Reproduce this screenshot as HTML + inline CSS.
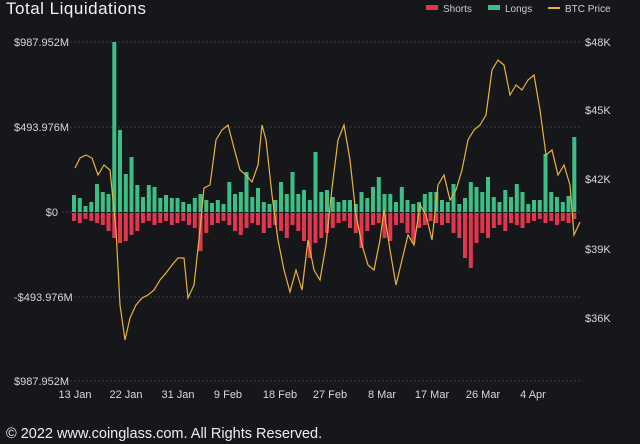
<!DOCTYPE html>
<html><head><meta charset="utf-8"><style>
body{margin:0;background:#16171b;width:640px;height:444px;overflow:hidden;font-family:"Liberation Sans",sans-serif}
svg{position:absolute;left:0;top:0}
</style></head><body>
<svg id="s" width="640" height="444" xmlns="http://www.w3.org/2000/svg">
<text x="6" y="14" fill="#f2f2f2" font-size="17" textLength="140">Total Liquidations</text>
<rect x="426" y="5" width="12" height="5" fill="#e0374f"/><text x="443" y="12" fill="#ccc" font-size="10">Shorts</text>
<rect x="488" y="5" width="12" height="5" fill="#3cbf85"/><text x="505" y="12" fill="#ccc" font-size="10">Longs</text>
<line x1="548" y1="8" x2="560" y2="8" stroke="#e8b33c" stroke-width="2"/><text x="565" y="12" fill="#ccc" font-size="10">BTC Price</text>
<g stroke="#3a3c44" stroke-dasharray="2,2" stroke-width="1">
<line x1="62" y1="42" x2="580" y2="42"/><line x1="62" y1="127" x2="580" y2="127"/><line x1="62" y1="212" x2="580" y2="212"/><line x1="62" y1="297" x2="580" y2="297"/><line x1="62" y1="381" x2="580" y2="381"/>
</g>
<g fill="#d8d8d8" font-size="11">
<text x="14" y="46">$987.952M</text><text x="14" y="131">$493.976M</text><text x="58" y="216" text-anchor="end">$0</text><text x="14" y="301">-$493.976M</text><text x="14" y="385">$987.952M</text>
<text x="585" y="46">$48K</text><text x="585" y="114">$45K</text><text x="585" y="183">$42K</text><text x="585" y="253">$39K</text><text x="585" y="322">$36K</text>
</g>
<g fill="#d8d8d8" font-size="11" text-anchor="middle">
<text x="75" y="398">13 Jan</text><text x="126" y="398">22 Jan</text><text x="178" y="398">31 Jan</text><text x="228" y="398">9 Feb</text><text x="280" y="398">18 Feb</text><text x="330" y="398">27 Feb</text><text x="382" y="398">8 Mar</text><text x="432" y="398">17 Mar</text><text x="483" y="398">26 Mar</text><text x="533" y="398">4 Apr</text>
</g>
<text x="6" y="438" fill="#eee" font-size="14.5">© 2022 www.coinglass.com. All Rights Reserved.</text>
<g id="bars"></g>
<polyline fill="none" stroke="#e8b33c" stroke-width="1.2" points="75,168 80,158 86,155 92,158 98,175 104,165 110,170 116,230 120,305 125,340 130,318 136,305 142,298 148,295 154,290 160,280 166,273 172,265 178,258 184,258 188,298 194,285 200,230 204,188 210,185 216,140 222,130 228,125 234,148 240,170 246,175 252,182 258,165 262,125 266,140 272,195 278,240 284,270 290,292 296,270 302,290 308,240 314,270 320,280 326,245 332,188 338,140 344,125 350,160 356,215 362,245 368,265 374,270 380,240 384,210 390,250 396,285 402,260 408,235 414,245 420,205 426,215 432,240 438,185 444,175 450,200 456,190 462,170 468,140 474,130 480,125 486,115 492,70 498,60 504,65 510,95 516,85 522,90 528,80 534,75 540,110 546,155 552,150 558,175 564,165 570,185 574,235 580,222"/>
</svg>
<script>
var L=[17,14,6,10,28,20,18,170,82,38,55,27,15,27,25,14,17,14,14,10,8,14,18,12,9,12,8,30,18,20,40,15,24,10,8,12,30,18,40,18,22,12,60,20,22,15,10,12,12,8,20,14,25,35,18,18,10,25,12,8,10,18,20,20,12,10,28,8,14,30,25,20,35,15,10,22,15,28,20,8,12,12,58,20,15,10,16,75];
var S=[8,10,6,8,10,12,18,25,30,28,22,18,10,8,12,10,8,12,10,8,12,15,38,20,12,10,8,12,18,22,15,10,12,20,15,12,18,25,12,18,28,45,30,25,20,15,10,8,15,20,35,18,12,10,25,28,12,10,20,30,15,12,8,10,12,10,20,25,45,55,30,20,25,15,12,18,10,12,15,10,8,6,10,8,12,8,10,6];
var g=document.getElementById('bars'),n=L.length,h='';
for(var i=0;i<n;i++){var x=72+i*(506/n);
h+='<rect x="'+x.toFixed(1)+'" y="'+(212-L[i])+'" width="4" height="'+L[i]+'" fill="#3cbf85"/>';
h+='<rect x="'+x.toFixed(1)+'" y="213" width="4" height="'+S[i]+'" fill="#e0374f"/>';}
g.innerHTML=h;
</script>
</body></html>
